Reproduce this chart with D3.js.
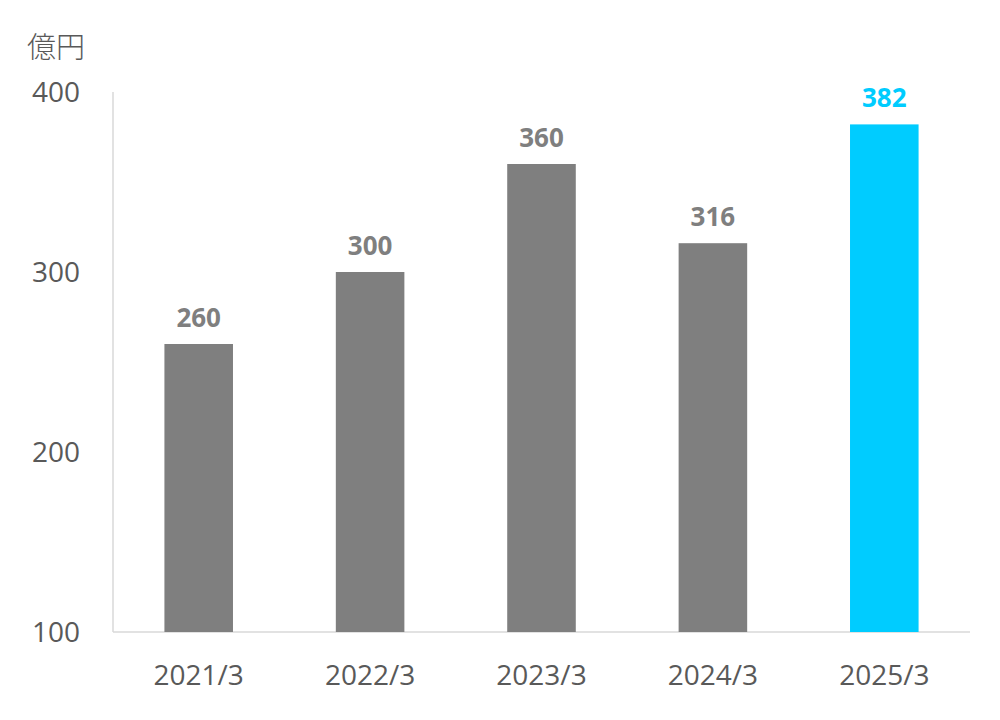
<!DOCTYPE html>
<html><head><meta charset="utf-8">
<script src="https://cdn.jsdelivr.net/npm/d3@7"></script>
<style>body{margin:0;background:#fff}</style>
</head><body>
<svg id="c" width="1000" height="720"></svg>
<script>
const categories = ["2021/3","2022/3","2023/3","2024/3","2025/3"];
const values = [260,300,360,316,382];
const yTicks = [100,200,300,400];
const unitLabel = "億円";

const svg = d3.select("#c");
const font = "'Open Sans','Noto Sans','Noto Sans CJK JP',sans-serif";
const x0 = 113, x1 = 970, yTop = 92, yBot = 632;
const x = d3.scaleBand().domain(categories).range([x0,x1]).paddingInner(0.6).paddingOuter(0.3);
const y = d3.scaleLinear().domain([100,400]).range([yBot,yTop]);

svg.append("line").attr("x1",x0).attr("x2",x0).attr("y1",yTop).attr("y2",yBot).attr("stroke","#d9d9d9").attr("stroke-width",1.5);
svg.append("line").attr("x1",x0).attr("x2",x1).attr("y1",yBot).attr("y2",yBot).attr("stroke","#d9d9d9").attr("stroke-width",1.5);

svg.selectAll(".yt").data(yTicks).enter().append("text")
  .attr("x",80).attr("y",d=>y(d)).attr("dy","0.36em").attr("text-anchor","end")
  .attr("font-family",font).attr("font-size",28).attr("fill","#595959").text(d=>d);

svg.append("text").attr("x",27).attr("y",58).attr("font-family","'Noto Sans CJK JP',sans-serif")
  .attr("font-weight",300).attr("font-size",29).attr("fill","#595959").text(unitLabel);

const colorOf = (d,i)=> i===categories.length-1 ? "#00CCFF" : "#7f7f7f";
svg.selectAll(".bar").data(values).enter().append("rect")
  .attr("x",(d,i)=>x(categories[i])).attr("width",x.bandwidth())
  .attr("y",d=>y(d)).attr("height",d=>yBot-y(d)).attr("fill",colorOf);

svg.selectAll(".vl").data(values).enter().append("text")
  .attr("x",(d,i)=>x(categories[i])+x.bandwidth()/2).attr("y",d=>y(d)-17)
  .attr("text-anchor","middle").attr("font-family",font).attr("font-weight","bold")
  .attr("font-size",26).attr("fill",colorOf).text(d=>d);

svg.selectAll(".xl").data(categories).enter().append("text")
  .attr("x",d=>x(d)+x.bandwidth()/2).attr("y",685)
  .attr("text-anchor","middle").attr("font-family",font).attr("font-size",28).attr("fill","#595959").text(d=>d);
</script>
</body></html>
